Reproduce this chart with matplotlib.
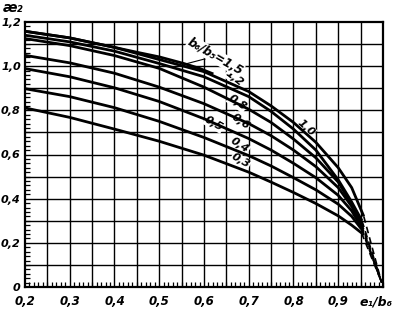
import numpy as np
import matplotlib
matplotlib.use("Agg")
import matplotlib.pyplot as plt
from matplotlib.ticker import MultipleLocator, FixedLocator

e_grid = [0.2, 0.3, 0.4, 0.5, 0.6, 0.7, 0.75, 0.8, 0.85, 0.9, 0.93]

# kappa2 for each b6/b5 (solid part)
k_12 = [1.158, 1.128, 1.085, 1.030, 0.975, 0.885, 0.820, 0.745, 0.655, 0.540, 0.450]
k_10 = [1.140, 1.110, 1.068, 1.012, 0.952, 0.862, 0.795, 0.715, 0.620, 0.485, 0.385]
k_08 = [1.125, 1.093, 1.048, 0.990, 0.905, 0.805, 0.745, 0.670, 0.585, 0.475, 0.375]
k_06 = [1.049, 1.015, 0.968, 0.905, 0.830, 0.740, 0.685, 0.620, 0.545, 0.450, 0.365]
k_05 = [0.989, 0.952, 0.902, 0.840, 0.762, 0.672, 0.620, 0.560, 0.495, 0.415, 0.345]
k_04 = [0.898, 0.862, 0.812, 0.750, 0.677, 0.595, 0.548, 0.495, 0.440, 0.375, 0.320]
k_03 = [0.811, 0.768, 0.715, 0.660, 0.597, 0.520, 0.475, 0.428, 0.378, 0.322, 0.280]

# where each solid curve stops (dashed from here on)
end_x = [0.957, 0.953, 0.952, 0.952, 0.952, 0.952, 0.952]
end_y = [0.320, 0.300, 0.290, 0.280, 0.270, 0.262, 0.245]
dash_tip = (0.997, 0.02)

# short curve b6/b5 = 1.5
e_15 = [0.2, 0.3, 0.4, 0.45, 0.5, 0.555, 0.59, 0.618]
k_15 = [1.158, 1.128, 1.085, 1.063, 1.042, 1.012, 0.990, 0.967]

# curve labels: text, x, y, rotation
lab_txt = ["1,2", "1,0", "0,8", "0,6", "0,5", "0,4", "0,3"]
lab_x = [0.668, 0.828, 0.674, 0.682, 0.622, 0.680, 0.682]
lab_y = [0.945, 0.722, 0.833, 0.751, 0.738, 0.640, 0.572]
lab_rot = [-38, -42, -35, -35, -30, -33, -30]

x_ticks = [0.2, 0.3, 0.4, 0.5, 0.6, 0.7, 0.8, 0.9]
x_labels = ["0,2", "0,3", "0,4", "0,5", "0,6", "0,7", "0,8", "0,9"]
y_ticks = [0, 0.2, 0.4, 0.6, 0.8, 1.0, 1.2]
y_labels = ["0", "0,2", "0,4", "0,6", "0,8", "1,0", "1,2"]

fnt = ["Liberation Sans Narrow", "DejaVu Sans"]

fig = plt.figure(figsize=(3.93, 3.10), dpi=100)
ax = fig.add_axes([25/393, 1-287/310, 358/393, 265/310])
ax.set_xlim(0.2, 1.0)
ax.set_ylim(0, 1.2)

# grid
for gx in np.arange(0.25, 1.0, 0.05):
    ax.axvline(gx, color="k", lw=1.0, zorder=1)
for gy in np.arange(0.1, 1.2, 0.1):
    ax.axhline(gy, color="k", lw=1.0, zorder=1)

curves = [k_12, k_10, k_08, k_06, k_05, k_04, k_03]
for i, ky in enumerate(curves):
    xs = e_grid + [end_x[i]]
    ys = ky + [end_y[i]]
    ax.plot(xs, ys, color="k", lw=2.0, solid_capstyle="butt", zorder=3)
    ax.plot([end_x[i], dash_tip[0]], [end_y[i], dash_tip[1]], color="k",
            lw=1.2, ls=(0, (4, 2.5)), zorder=3)

ax.plot(e_15, k_15, color="k", lw=2.0, zorder=3)

for t, lx, ly, r in zip(lab_txt, lab_x, lab_y, lab_rot):
    ax.text(lx, ly, t, rotation=r, ha="center", va="center", fontsize=8,
            style="italic", weight="bold", family=fnt, zorder=2,
            bbox=dict(facecolor="white", edgecolor="none", pad=0.3))

ax.annotate("b₆/b₅=1,5", xy=(0.555, 1.008), xytext=(0.625, 1.045),
            rotation=-30, ha="center", va="center", fontsize=8.5,
            style="italic", weight="bold", family=fnt, zorder=2,
            bbox=dict(facecolor="white", edgecolor="none", pad=0.3),
            arrowprops=dict(arrowstyle="-", lw=0.8, color="k",
                            shrinkA=0, shrinkB=0))

# ticks
ax.xaxis.set_major_locator(FixedLocator(x_ticks))
ax.set_xticklabels(x_labels, style="italic", weight="bold", family=fnt, fontsize=8.5)
ax.xaxis.set_minor_locator(MultipleLocator(0.01))
ax.yaxis.set_major_locator(FixedLocator(y_ticks))
ax.set_yticklabels(y_labels, style="italic", weight="bold", family=fnt, fontsize=8)
ax.yaxis.set_minor_locator(MultipleLocator(0.02))
ax.tick_params(axis="x", which="major", length=0, pad=6)
ax.tick_params(axis="y", which="major", length=0, pad=3)
ax.tick_params(which="minor", direction="in", length=3.5, width=0.9)

for s in ax.spines.values():
    s.set_linewidth(1.6)

ax.text(0.985, -0.04, "e₁/b₆", ha="center", va="top", fontsize=9,
        style="italic", weight="bold", family=fnt, transform=ax.transData,
        clip_on=False)
fig.text(3/393, 1-8/310, "æ₂", ha="left", va="center", fontsize=10,
         style="italic", weight="bold", family=fnt)

fig.savefig("out.png", dpi=100)
